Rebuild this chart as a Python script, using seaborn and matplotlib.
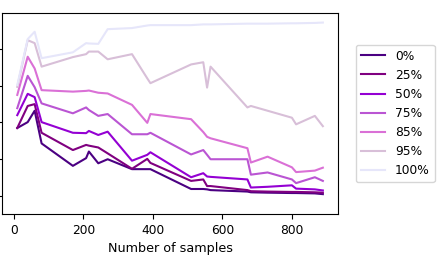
import pandas as pd
import seaborn as sns
import matplotlib
matplotlib.use("Agg")
import matplotlib.pyplot as plt

# number of samples (shared x for every curve)
samples = [10, 40, 60, 80, 170, 208, 216, 243, 270, 340, 384, 393,
           510, 545, 556, 566, 672, 682, 730, 800, 812, 866, 889]

levels = ["0%", "25%", "50%", "75%", "85%", "95%", "100%"]

vals_0 = [1.85, 2.01, 2.32, 1.43, 0.82, 1.03, 1.21, 0.89, 1.00, 0.73, 0.73, 0.73,
          0.19, 0.19, 0.18, 0.16, 0.12, 0.10, 0.09, 0.08, 0.08, 0.07, 0.05]
vals_25 = [1.85, 2.45, 2.50, 1.72, 1.25, 1.39, 1.37, 1.32, 1.16, 0.74, 1.01, 0.90,
           0.41, 0.45, 0.27, 0.27, 0.16, 0.13, 0.12, 0.11, 0.11, 0.10, 0.09]
vals_50 = [2.20, 2.78, 2.69, 2.01, 1.72, 1.71, 1.77, 1.66, 1.75, 0.96, 1.12, 1.19,
           0.51, 0.62, 0.53, 0.52, 0.45, 0.23, 0.25, 0.29, 0.20, 0.18, 0.15]
vals_75 = [2.39, 3.27, 2.96, 2.52, 2.25, 2.41, 2.34, 2.18, 2.23, 1.68, 1.68, 1.72,
           1.13, 1.25, 1.12, 1.00, 1.00, 0.58, 0.64, 0.45, 0.35, 0.51, 0.41]
vals_85 = [2.75, 3.79, 3.47, 2.88, 2.84, 2.86, 2.87, 2.81, 2.79, 2.48, 1.99, 2.23,
           2.09, 1.74, 1.61, 1.57, 1.30, 0.91, 1.07, 0.78, 0.65, 0.69, 0.77]
vals_95 = [2.97, 4.24, 4.16, 3.52, 3.78, 3.86, 3.93, 3.93, 3.72, 3.86, 3.20, 3.07,
           3.58, 3.64, 2.95, 3.52, 2.41, 2.45, 2.32, 2.13, 1.95, 2.18, 1.90]
vals_100 = [3.02, 4.27, 4.47, 3.75, 3.91, 4.16, 4.15, 4.14, 4.54, 4.57, 4.64, 4.65,
            4.65, 4.67, 4.67, 4.67, 4.69, 4.69, 4.69, 4.70, 4.70, 4.71, 4.72]

colors = ["indigo", "purple", "darkviolet", "mediumorchid", "orchid", "thistle", "lavender"]

series = [vals_0, vals_25, vals_50, vals_75, vals_85, vals_95, vals_100]
df = pd.concat(
    [pd.DataFrame({"samples": samples, "value": v, "level": lvl}) for lvl, v in zip(levels, series)],
    ignore_index=True,
)

plt.rcParams["font.size"] = 9

fig = plt.figure(figsize=(4.42, 2.6), dpi=100)
ax = fig.add_axes([0.0045, 0.177, 0.7605, 0.773])

sns.lineplot(data=df, x="samples", y="value", hue="level", hue_order=levels,
             palette=colors, linewidth=1.5, sort=False, ax=ax)

ax.set_ylim(-0.49, 4.98)
ax.set_yticks([0, 1, 2, 3, 4])
ax.set_yticklabels([""] * 5)
ax.set_xticks([0, 200, 400, 600, 800])
ax.tick_params(labelsize=8.8)
ax.set_xlabel("Number of samples", fontsize=9.2)
ax.set_ylabel("")

sns.move_legend(ax, "center left", bbox_to_anchor=(1.035, 0.5), title=None, fontsize=8.8)

fig.savefig("out.png", dpi=100)
